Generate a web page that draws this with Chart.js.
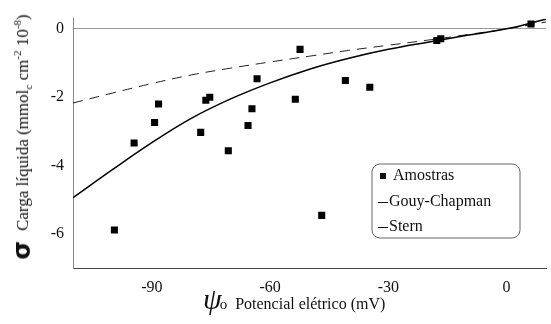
<!DOCTYPE html>
<html>
<head>
<meta charset="utf-8">
<script src="https://cdn.jsdelivr.net/npm/chart.js@4.4.0/dist/chart.umd.min.js"></script>
<style>
  html, body { margin: 0; padding: 0; background: #fff; }
  #wrap { position: relative; width: 551px; height: 324px; font-family: "Liberation Serif", serif; color: #111; }
  #chart { position: absolute; left: 0; top: 0; }
  .ytitle {
    position: absolute; left: 22px; top: 137px; white-space: nowrap; font-size: 17px;
    transform: translate(-50%, -50%) rotate(-90deg);
  }
  .ytitle .sig { font-family: "DejaVu Sans", sans-serif; font-weight: bold; font-size: 24px; margin-right: 10px; vertical-align: -2px; }
  .ytitle sub, .ytitle sup { font-size: 11px; }
  .xtitle { position: absolute; left: 203px; top: 282px; white-space: nowrap; font-size: 16px; }
  .xtitle .psi { font-style: italic; font-size: 30px; margin-right: 8px; }
  .xtitle .psi sub { font-style: normal; font-size: 15px; vertical-align: 0; margin-left: -2px; }
</style>
</head>
<body>
<div id="wrap">
  <canvas id="chart" width="551" height="324"></canvas>
  <div class="ytitle"><span class="sig">σ</span>Carga líquida (mmol<sub>c</sub> cm<sup>-2</sup> 10<sup>-8</sup>)</div>
  <div class="xtitle"><span class="psi">ψ<sub>o</sub></span>Potencial elétrico (mV)</div>
</div>
<script>
// measured samples
const amostrasPsi = [-99.5, -94.5, -89.3, -88.3, -77.6, -76.3, -75.3, -70.6, -65.6, -64.6,
                     -63.3, -53.6, -52.4, -46.9, -40.9, -34.7, -17.7, -16.7, 6.2];
const amostrasSigma = [-5.89, -3.34, -2.74, -2.2, -3.03, -2.09, -2.0, -3.57, -2.83, -2.34,
                       -1.46, -2.06, -0.6, -5.46, -1.51, -1.71, -0.34, -0.29, 0.14];

// model curves
const curvePsi = [-110, -100, -90, -80, -70, -60, -50, -40, -30, -20, -10, 0, 10];
const gouyChapman = [-4.94, -4.12, -3.33, -2.62, -2.05, -1.58, -1.18, -0.86, -0.6, -0.39, -0.19, 0, 0.28];
const stern = [-2.17, -1.88, -1.6, -1.35, -1.15, -0.97, -0.8, -0.63, -0.48, -0.33, -0.17, 0, 0.2];

const xTicks = [-90, -60, -30, 0];
const yTicks = [0, -2, -4, -6];

const toXY = (xs, ys) => xs.map((x, i) => ({ x: x, y: ys[i] }));

const tickFont = { family: "Liberation Serif", size: 16 };

// legend drawn inside the plot area, boxed
const legendBox = {
    id: 'legendBox',
    afterDraw(chart) {
        const ctx = chart.ctx;
        const x = 372, y = 164, w = 148, h = 74;
        ctx.save();
        ctx.beginPath();
        ctx.roundRect(x, y, w, h, 8);
        ctx.fillStyle = '#fff';
        ctx.fill();
        ctx.strokeStyle = '#666';
        ctx.lineWidth = 1;
        ctx.stroke();

        ctx.font = '16px "Liberation Serif"';
        ctx.textBaseline = 'middle';
        ctx.fillStyle = '#111';
        const rows = [176, 202, 227];
        chart.data.datasets.forEach((ds, i) => {
            const ry = rows[i];
            if (ds.type === 'scatter') {
                ctx.fillRect(380, ry - 3, 6, 6);
                ctx.fillText(ds.label, 393, ry);
            } else {
                ctx.beginPath();
                ctx.moveTo(378, ry + 0.5);
                ctx.lineTo(388, ry + 0.5);
                ctx.strokeStyle = '#111';
                ctx.stroke();
                ctx.fillText(ds.label, 389, ry);
            }
        });
        ctx.restore();
    }
};

new Chart(document.getElementById('chart'), {
    data: {
        datasets: [
            {
                type: 'scatter',
                label: 'Amostras',
                data: toXY(amostrasPsi, amostrasSigma),
                pointStyle: 'rect',
                pointRadius: 5,
                backgroundColor: '#000',
                borderColor: '#000',
                borderWidth: 0
            },
            {
                type: 'line',
                label: 'Gouy-Chapman',
                data: toXY(curvePsi, gouyChapman),
                borderColor: '#000',
                borderWidth: 1.5,
                pointRadius: 0,
                tension: 0.4,
                fill: false
            },
            {
                type: 'line',
                label: 'Stern',
                data: toXY(curvePsi, stern),
                borderColor: '#222',
                borderWidth: 1,
                borderDash: [10, 7],
                pointRadius: 0,
                tension: 0.4,
                fill: false
            }
        ]
    },
    options: {
        responsive: false,
        animation: false,
        layout: { padding: { top: 14, right: 0, left: 0, bottom: 0 } },
        plugins: { legend: { display: false }, tooltip: { enabled: false } },
        scales: {
            x: {
                type: 'linear',
                min: -110,
                max: 10,
                afterBuildTicks: s => { s.ticks = xTicks.map(v => ({ value: v })); },
                afterFit: s => { s.height = 56; },
                ticks: { font: tickFont, color: '#111', padding: 10, maxRotation: 0 },
                grid: { color: 'transparent', drawTicks: false },
                border: { display: true, color: '#444', width: 1 }
            },
            y: {
                type: 'linear',
                min: -7,
                max: 0.3,
                afterBuildTicks: s => { s.ticks = yTicks.map(v => ({ value: v })); },
                afterFit: s => { s.width = 73; },
                ticks: { font: tickFont, color: '#111', padding: 9 },
                grid: {
                    drawTicks: false,
                    color: c => (c.tick && c.tick.value === 0 ? '#999' : 'transparent')
                },
                border: { display: true, color: '#888', width: 1 }
            }
        }
    },
    plugins: [legendBox]
});
</script>
</body>
</html>
